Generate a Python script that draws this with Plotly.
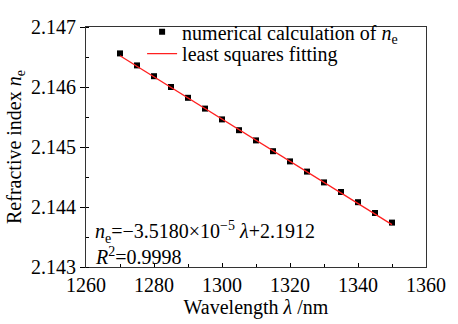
import plotly.graph_objects as go

wavelength = [1270, 1275, 1280, 1285, 1290, 1295, 1300, 1305, 1310, 1315,
              1320, 1325, 1330, 1335, 1340, 1345, 1350]
n_e = [2.14656, 2.14636, 2.14618, 2.14600, 2.14582, 2.14564, 2.14546, 2.14528,
       2.14511, 2.14493, 2.14476, 2.14459, 2.14441, 2.14425, 2.14408, 2.14390, 2.14374]
fit_x = [1270, 1350]
fit_y = [2.146521, 2.143707]

FONT = "Liberation Serif"
FS = 20

fig = go.Figure()
fig.add_trace(go.Scatter(
    x=wavelength, y=n_e, mode="markers",
    marker=dict(symbol="square", size=6, color="black"),
    name="numerical calculation of <i>n</i><sub>e</sub>", legend="legend",
))
fig.add_trace(go.Scatter(
    x=fit_x, y=fit_y, mode="lines",
    line=dict(color="#ff2020", width=1.3),
    name="least squares fitting", legend="legend2",
))

leg_common = dict(font=dict(family=FONT, size=FS, color="black"),
                  bgcolor="rgba(0,0,0,0)", borderwidth=0,
                  xanchor="left", yanchor="middle", itemwidth=30,
                  tracegroupgap=0)
fig.update_layout(
    width=458, height=324,
    margin=dict(l=86, r=24, t=16, b=47),
    paper_bgcolor="white", plot_bgcolor="white",
    font=dict(family=FONT, size=FS, color="black"),
    showlegend=True,
    legend=dict(x=0.165, y=0.98, **leg_common),
    legend2=dict(x=0.165, y=0.889, **leg_common),
    xaxis=dict(
        range=[1260, 1360], dtick=20, tick0=1260,
        ticks="inside", ticklen=4, tickwidth=1, tickcolor="black",
        minor=dict(ticks="inside", ticklen=3, dtick=10, tickcolor="black"),
        showline=True, linecolor="#333", linewidth=1, mirror=True,
        showgrid=False, zeroline=False,
        tickfont=dict(family=FONT, size=FS),
        title=dict(text="Wavelength <i>λ</i> /nm", standoff=2,
                   font=dict(family=FONT, size=FS)),
    ),
    yaxis=dict(
        range=[2.143, 2.147], dtick=0.001, tickformat=".3f",
        ticks="outside", ticklen=5, tickwidth=1, tickcolor="black",
        minor=dict(ticks="inside", ticklen=3, dtick=0.0005, tickcolor="black"),
        showline=True, linecolor="#333", linewidth=1, mirror=True,
        showgrid=False, zeroline=False,
        tickfont=dict(family=FONT, size=FS),
        title=dict(text="Refractive index <i>n</i><sub>e</sub>", standoff=4,
                   font=dict(family=FONT, size=FS)),
    ),
    annotations=[
        dict(xref="paper", yref="paper", x=0.02, y=0.145, xanchor="left", yanchor="middle",
             text="<i>n</i><sub>e</sub>=−3.5180×10<sup>−5</sup> <i>λ</i>+2.1912",
             showarrow=False, font=dict(family=FONT, size=FS)),
        dict(xref="paper", yref="paper", x=0.02, y=0.045, xanchor="left", yanchor="middle",
             text="<i>R</i><sup>2</sup>=0.9998",
             showarrow=False, font=dict(family=FONT, size=FS)),
    ],
)

fig.write_html("out.html")
